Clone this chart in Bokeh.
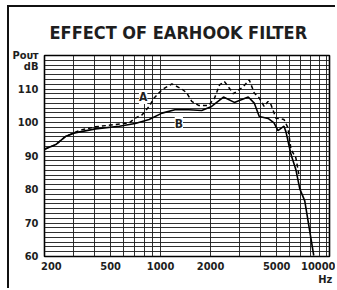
from bokeh.plotting import figure
from bokeh.models import FixedTicker, Label, Title
from bokeh.embed import file_html
from bokeh.resources import INLINE

# ---- data ----
freq_b = [200, 234, 269, 304, 406, 565, 703, 853, 1020, 1220, 1478, 1768, 2028,
          2392, 2780, 3372, 3664, 3928, 4440, 4820, 5090, 5534, 5688, 6095, 6520,
          6890, 7380, 8360]
level_b = [92.0, 93.4, 95.9, 96.9, 98.1, 98.9, 99.7, 100.9, 102.8, 103.8, 103.8,
           103.6, 104.8, 107.6, 106.0, 107.6, 105.8, 101.8, 101.2, 99.9, 97.6,
           98.9, 97.2, 90.5, 86.0, 80.2, 76.6, 60.3]

freq_a = [200, 234, 269, 304, 326, 406, 648, 703, 775, 853, 914, 1020, 1170, 1342,
          1438, 1540, 1695, 1946, 2114, 2264, 2425, 2744, 2938, 3148, 3420, 3664,
          3928, 4200, 4440, 4624, 4950, 5534, 5848, 6095, 6520, 6795]
level_a = [92.0, 93.4, 95.9, 97.0, 97.7, 98.7, 99.9, 101.3, 102.3, 104.8, 107.3,
           109.8, 111.5, 110.0, 108.8, 106.3, 105.1, 105.1, 107.3, 111.2, 112.2,
           108.6, 109.6, 110.7, 112.7, 108.8, 107.3, 104.8, 106.3, 105.3, 101.3,
           100.9, 98.4, 92.0, 89.5, 84.6]

x_tick_values = [200, 500, 1000, 2000, 5000, 10000]
x_tick_labels = ["\u2007\u2007200", "500", "1000", "2000", "5000", "10000\n\u2007\u2007Hz"]
y_tick_values = [60, 70, 80, 90, 100, 110, 116.6, 120]
y_tick_labels = ["60", "70", "80", "90", "100", "110", "dB", "P\u1d0f\u1d1c\u1d1b"]
x_grid_values = [200, 300, 400, 500, 600, 700, 800, 900, 1000, 2000, 3000, 4000,
                 5000, 6000, 7000, 8000, 9000, 10000]
y_grid_values = [60 + i * 10 / 7 for i in range(43)]

FONT = "DejaVu Sans Condensed"
INK = "#1e1e1e"

p = figure(width=328, height=283, x_axis_type="log",
           x_range=(200, 10400), y_range=(60, 120),
           output_backend="svg", toolbar_location=None,
           min_border_left=33, min_border_right=8,
           min_border_top=47, min_border_bottom=34,
           styles={"margin-left": "7px", "margin-top": "5px",
                   "border-left": "2px solid #111", "border-top": "2px solid #111"})

p.title = Title(text="EFFECT OF EARHOOK FILTER", align="left", offset=5,
                text_font=FONT, text_font_size="18px", text_font_style="bold",
                text_color=INK, standoff=25)

p.outline_line_color = "black"
p.outline_line_width = 1.6
p.background_fill_color = "white"
p.border_fill_color = "white"

# axes
p.xaxis.ticker = FixedTicker(ticks=x_tick_values)
xo = {}
for v, s in zip(x_tick_values, x_tick_labels):
    xo[v] = s
    xo[str(v)] = s
p.xaxis.major_label_overrides = xo
p.yaxis.ticker = FixedTicker(ticks=y_tick_values)
yo = {}
for v, s in zip(y_tick_values, y_tick_labels):
    yo[v] = s
    yo[str(v)] = s
p.yaxis.major_label_overrides = yo
for ax in (p.xaxis[0], p.yaxis[0]):
    ax.axis_line_color = None
    ax.major_tick_line_color = None
    ax.minor_tick_line_color = None
    ax.major_tick_out = 0
    ax.major_tick_in = 0
    ax.minor_tick_out = 0
    ax.major_label_text_font = FONT
    ax.major_label_text_font_style = "bold"
    ax.major_label_text_font_size = "11px"
    ax.major_label_text_color = INK
p.xaxis.major_label_standoff = 3
p.xaxis.major_label_text_line_height = 1.05
p.yaxis.major_label_standoff = 6

# grid
p.xgrid.ticker = FixedTicker(ticks=x_grid_values)
p.ygrid.ticker = FixedTicker(ticks=y_grid_values)
for g in (p.xgrid[0], p.ygrid[0]):
    g.grid_line_color = "#1a1a1a"
    g.grid_line_width = 1
    g.grid_line_alpha = 0.9

# curves
p.line(freq_a, level_a, line_color="black", line_width=1.5, line_dash="4 3")
p.line(freq_b, level_b, line_color="black", line_width=1.6)

# curve labels
for txt, fx, fy in (("A", 785, 107.6), ("B", 1288, 99.6)):
    p.add_layout(Label(x=fx, y=fy, text=txt, text_align="center",
                       text_baseline="middle", text_font=FONT,
                       text_font_style="bold", text_font_size="12px",
                       background_fill_color="white", text_color=INK))

open("out.html", "w").write(file_html(p, INLINE))
